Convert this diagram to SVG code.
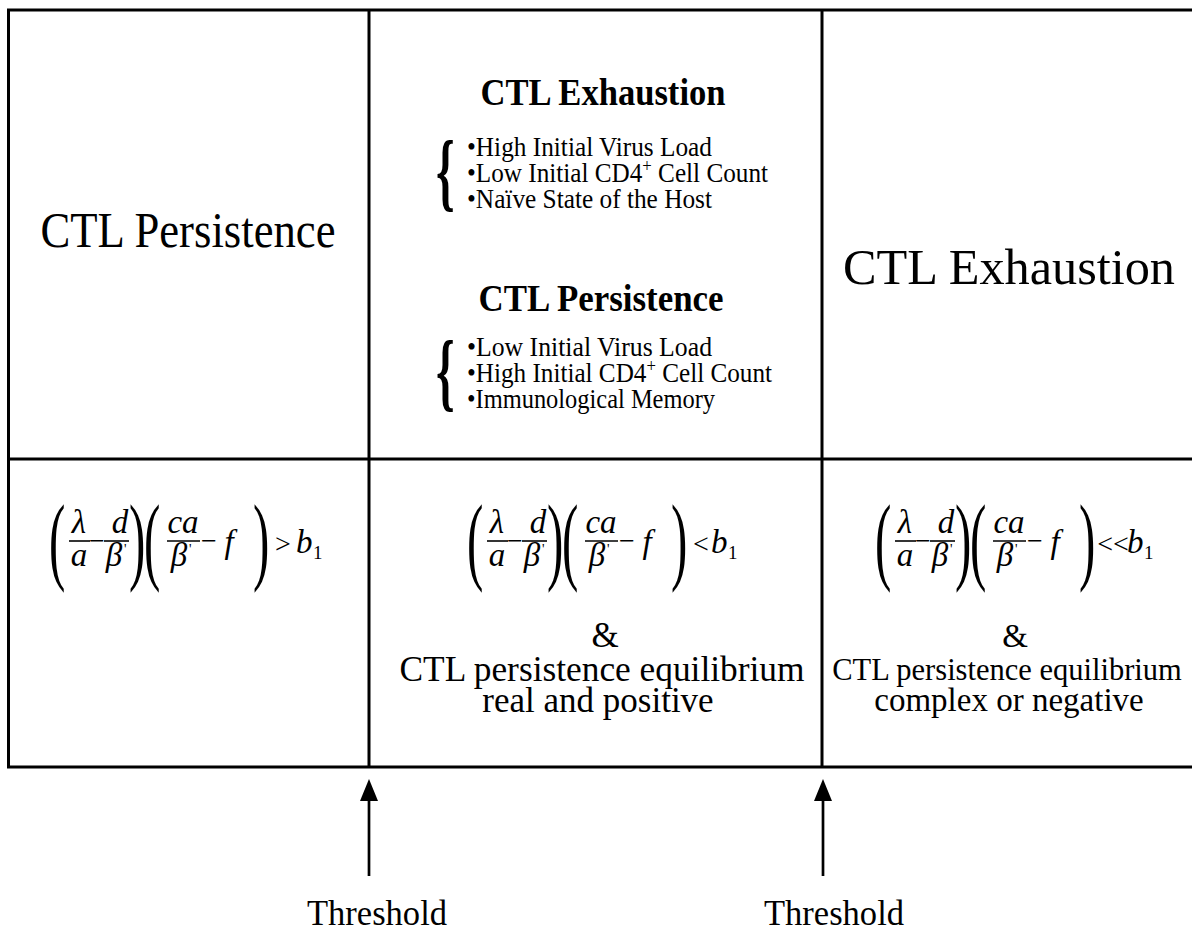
<svg xmlns="http://www.w3.org/2000/svg" width="1192" height="933" viewBox="0 0 1192 933">
<style>
.t{font-family:"Liberation Serif","Times New Roman",serif;fill:#000}
.big{font-size:50px}
.hd{font-size:37px;font-weight:bold}
.bl{font-size:27px}
.mid{font-size:35px}
.rt{font-size:33px}
.th{font-size:35px}
.m{font-family:"Liberation Serif","Times New Roman",serif;font-style:italic;font-size:33px;fill:#000}
.op{font-family:"Liberation Serif","Times New Roman",serif;font-size:28px;fill:#000}
.sub{font-family:"Liberation Serif","Times New Roman",serif;font-size:19px;fill:#000}
.pr{font-family:"Liberation Serif","Times New Roman",serif;font-size:14px;fill:#000}
.par{font-family:"Liberation Serif","Times New Roman",serif;font-size:98px;fill:#000}
.brace{font-family:"Liberation Serif","Times New Roman",serif;font-size:86px;fill:#000}
.bar{stroke:#000;stroke-width:1.6}
.grid{stroke:#000;stroke-width:3;fill:none}
.arr{stroke:#000;stroke-width:2.7;fill:none}
</style>
<defs>
<marker id="ah" markerWidth="22" markerHeight="18" refX="6" refY="9" orient="auto" markerUnits="userSpaceOnUse" viewBox="0 0 22 18">
<path d="M0,0 L22,9 L0,18 Z" fill="#000"/>
</marker>
<g id="lhs">
<text class="par" transform="translate(-3,572) scale(0.5,1)">(</text>
<text class="m" x="27" y="533" text-anchor="middle">λ</text>
<line class="bar" x1="17" y1="541" x2="38" y2="541"/>
<text class="m" x="27" y="566" text-anchor="middle">a</text>
<text class="op" x="45" y="550" text-anchor="middle">−</text>
<line class="bar" x1="52" y1="541" x2="77" y2="541"/>
<text class="m" x="68" y="533" text-anchor="middle">d</text>
<text class="m" x="62" y="566" text-anchor="middle">β</text>
<text class="pr" x="72" y="554">'</text>
<text class="par" transform="translate(77,572) scale(0.5,1)">)</text>
<text class="par" transform="translate(92,572) scale(0.5,1)">(</text>
<line class="bar" x1="115" y1="541" x2="148" y2="541"/>
<text class="m" x="131" y="533" text-anchor="middle">ca</text>
<text class="m" x="127" y="566" text-anchor="middle">β</text>
<text class="pr" x="137" y="554">'</text>
<text class="op" x="157" y="550" text-anchor="middle">−</text>
<text class="m" x="177" y="553" text-anchor="middle">f</text>
<text class="par" transform="translate(201,572) scale(0.5,1)">)</text>
</g>
</defs>

<g id="table">
<path class="grid" d="M1192,10 L8.5,10 L8.5,767 L1192,767"/>
<line class="grid" x1="8.5" y1="459" x2="1192" y2="459"/>
<line class="grid" x1="369" y1="10" x2="369" y2="767"/>
<line class="grid" x1="822" y1="10" x2="822" y2="767"/>
</g>

<g id="left-top">
<text class="t big" x="188" y="247" text-anchor="middle" textLength="295" lengthAdjust="spacingAndGlyphs">CTL Persistence</text>
</g>

<g id="middle-top">
<text class="t hd" x="603" y="105" text-anchor="middle" textLength="245" lengthAdjust="spacingAndGlyphs">CTL Exhaustion</text>
<text class="brace" font-weight="bold" transform="translate(436,200) scale(0.55,1)">{</text>
<text class="t bl" x="467" y="156" textLength="245" lengthAdjust="spacingAndGlyphs">•High Initial Virus Load</text>
<text class="t bl" x="467" y="182" textLength="301" lengthAdjust="spacingAndGlyphs">•Low Initial CD4<tspan font-size="18" dy="-10">+</tspan><tspan dy="10"> Cell Count</tspan></text>
<text class="t bl" x="467" y="208" textLength="245" lengthAdjust="spacingAndGlyphs">•Naïve State of the Host</text>
<text class="t hd" x="601" y="311" text-anchor="middle" textLength="245" lengthAdjust="spacingAndGlyphs">CTL Persistence</text>
<text class="brace" font-weight="bold" transform="translate(436,400) scale(0.55,1)">{</text>
<text class="t bl" x="467" y="356" textLength="245" lengthAdjust="spacingAndGlyphs">•Low Initial Virus Load</text>
<text class="t bl" x="467" y="382" textLength="305" lengthAdjust="spacingAndGlyphs">•High Initial CD4<tspan font-size="18" dy="-10">+</tspan><tspan dy="10"> Cell Count</tspan></text>
<text class="t bl" x="467" y="408" textLength="248" lengthAdjust="spacingAndGlyphs">•Immunological Memory</text>
</g>

<g id="right-top">
<text class="t big" x="1009" y="284" text-anchor="middle" textLength="332" lengthAdjust="spacingAndGlyphs">CTL Exhaustion</text>
</g>

<g id="left-bottom">
<use href="#lhs" x="52"/>
<text class="op" x="283" y="553" text-anchor="middle">&gt;</text>
<text class="m" x="296" y="553">b</text>
<text class="sub" x="313" y="559">1</text>
</g>

<g id="middle-bottom">
<use href="#lhs" x="470"/>
<text class="op" x="701" y="553" text-anchor="middle">&lt;</text>
<text class="m" x="711" y="553">b</text>
<text class="sub" x="728" y="559">1</text>
<text class="t mid" x="605" y="647" text-anchor="middle">&amp;</text>
<text class="t mid" x="602" y="681" text-anchor="middle" textLength="405" lengthAdjust="spacingAndGlyphs">CTL persistence equilibrium</text>
<text class="t mid" x="598" y="712" text-anchor="middle">real and positive</text>
</g>

<g id="right-bottom">
<use href="#lhs" x="878"/>
<text class="op" x="1113" y="553" text-anchor="middle">&lt;&lt;</text>
<text class="m" x="1127" y="553">b</text>
<text class="sub" x="1144" y="559">1</text>
<text class="t rt" x="1015" y="647" text-anchor="middle">&amp;</text>
<text class="t" font-size="30.5" x="1007" y="680" text-anchor="middle">CTL persistence equilibrium</text>
<text class="t rt" x="1009" y="711" text-anchor="middle">complex or negative</text>
</g>

<g id="connectors">
<line class="arr" x1="369" y1="876" x2="369" y2="795" marker-end="url(#ah)"/>
<line class="arr" x1="823" y1="876" x2="823" y2="795" marker-end="url(#ah)"/>
</g>

<g id="labels">
<text class="t th" x="377" y="925" text-anchor="middle" textLength="140" lengthAdjust="spacingAndGlyphs">Threshold</text>
<text class="t th" x="834" y="925" text-anchor="middle" textLength="140" lengthAdjust="spacingAndGlyphs">Threshold</text>
</g>
</svg>
